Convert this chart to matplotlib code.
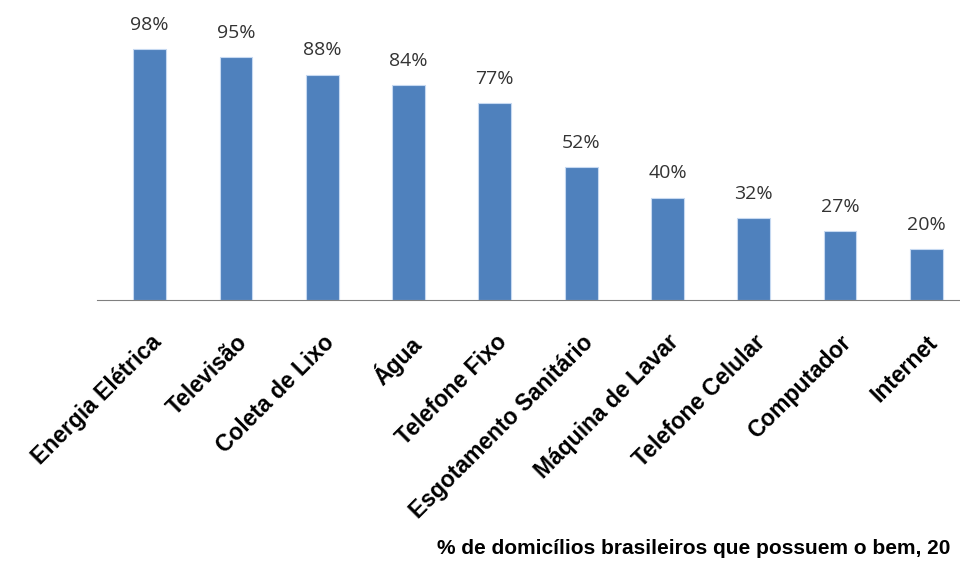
import matplotlib
matplotlib.use("Agg")
import matplotlib.pyplot as plt
import numpy as np

categorias = ["Energia Elétrica", "Televisão", "Coleta de Lixo", "Água", "Telefone Fixo",
              "Esgotamento Sanitário", "Máquina de Lavar", "Telefone Celular",
              "Computador", "Internet"]
valores = [98, 95, 88, 84, 77, 52, 40, 32, 27, 20]

fig = plt.figure(figsize=(9.6, 5.66), dpi=100)
ax = fig.add_axes([97/960, 1 - 300/566, 1 - 97/960, 256/566])

x = np.arange(len(categorias))
ax.bar(x, valores, width=0.38, color="#4F81BD", edgecolor="#C6D9F1", linewidth=0.8)

for xi, v in zip(x, valores):
    ax.annotate(f"{v}%", (xi, v), xytext=(0, 11), textcoords="offset points",
                ha="center", va="bottom", fontsize=14, color="#333333",
                family="Open Sans")

ax.set_xlim(-0.61, 9.39)
ax.set_ylim(0, 100)
ax.set_xticks(x)
ax.set_xticklabels(categorias, rotation=45, ha="right", rotation_mode="anchor",
                   fontsize=16.5, fontweight="bold", family="Liberation Sans")
ax.tick_params(axis="x", length=0, pad=22)
ax.set_yticks([])
for s in ["top", "right", "left"]:
    ax.spines[s].set_visible(False)
ax.spines["bottom"].set_color("#808080")

fig.text(437/960, 1 - 548/566, "% de domicílios brasileiros que possuem o bem, 20",
         ha="left", va="center", fontsize=15, fontweight="bold", family="Liberation Sans")

fig.savefig("out.png", dpi=100)
